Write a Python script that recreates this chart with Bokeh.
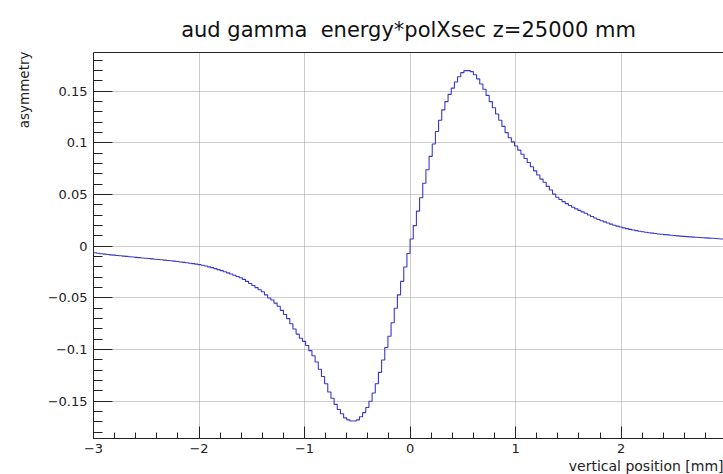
import numpy as np
from bokeh.plotting import figure
from bokeh.models import Range1d, FixedTicker, LinearAxis, Title
from bokeh.embed import file_html
from bokeh.resources import INLINE

# ---- texts ----
title_text = "aud gamma\u00a0 energy*polXsec z=25000 mm"
x_title = "vertical position [mm]"
y_title = "asymmetry"

# ---- histogram: 200 bins of 0.03 mm from -3 to 3 ----
bin_low = -3.0
bin_width = 0.03

# bins from x = -3 up to 0 (left to right)
asym_neg = [
    -0.0063, -0.0068, -0.0072, -0.0076, -0.0080, -0.0083, -0.0086, -0.0089, -0.0092, -0.0095,
    -0.0098, -0.0101, -0.0104, -0.0107, -0.0110, -0.0113, -0.0116, -0.0119, -0.0122, -0.0125,
    -0.0128, -0.0131, -0.0134, -0.0137, -0.0140, -0.0144, -0.0148, -0.0152, -0.0156, -0.0160,
    -0.0164, -0.0168, -0.0173, -0.0178, -0.0184, -0.0191, -0.0199, -0.0207, -0.0216, -0.0226,
    -0.0236, -0.0246, -0.0257, -0.0268, -0.0280, -0.0292, -0.0305, -0.0320, -0.0340, -0.0360,
    -0.0380, -0.0400, -0.0420, -0.0440, -0.0470, -0.0500, -0.0520, -0.0550, -0.0580, -0.0620,
    -0.0660, -0.0700, -0.0750, -0.0800, -0.0850, -0.0890, -0.0920, -0.0960, -0.1010, -0.1060,
    -0.1120, -0.1190, -0.1260, -0.1330, -0.1410, -0.1470, -0.1530, -0.1580, -0.1620, -0.1660,
    -0.1680, -0.1690, -0.1690, -0.1680, -0.1650, -0.1610, -0.1560, -0.1500, -0.1420, -0.1330,
    -0.1220, -0.1100, -0.0980, -0.0870, -0.0740, -0.0600, -0.0470, -0.0340, -0.0200, -0.0070,
]

# bins from x = 0 up to 3 (left to right)
asym_pos = [
    0.0070, 0.0200, 0.0340, 0.0470, 0.0610, 0.0740, 0.0870, 0.0990, 0.1110, 0.1220,
    0.1320, 0.1400, 0.1470, 0.1530, 0.1590, 0.1640, 0.1680, 0.1700, 0.1700, 0.1690,
    0.1660, 0.1620, 0.1570, 0.1520, 0.1460, 0.1400, 0.1340, 0.1280, 0.1220, 0.1160,
    0.1100, 0.1050, 0.1010, 0.0970, 0.0930, 0.0890, 0.0850, 0.0810, 0.0770, 0.0730,
    0.0690, 0.0650, 0.0620, 0.0580, 0.0545, 0.0505, 0.0475, 0.0452, 0.0432, 0.0413,
    0.0395, 0.0378, 0.0362, 0.0347, 0.0333, 0.0319, 0.0303, 0.0288, 0.0273, 0.0259,
    0.0247, 0.0236, 0.0225, 0.0214, 0.0204, 0.0195, 0.0186, 0.0178, 0.0171, 0.0164,
    0.0157, 0.0151, 0.0145, 0.0140, 0.0135, 0.0131, 0.0127, 0.0123, 0.0119, 0.0116,
    0.0113, 0.0110, 0.0107, 0.0104, 0.0101, 0.0098, 0.0096, 0.0093, 0.0091, 0.0089,
    0.0087, 0.0085, 0.0083, 0.0081, 0.0079, 0.0077, 0.0075, 0.0073, 0.0071, 0.0069,
]

# ---- axis ticks ----
x_ticks = [-3, -2, -1, 0, 1, 2, 3]
x_tick_labels = ["\u22123", "\u22122", "\u22121", "0", "1", "2", "3"]
y_ticks = [-0.15, -0.1, -0.05, 0.0, 0.05, 0.1, 0.15]
y_tick_labels = ["\u22120.15", "\u22120.1", "\u22120.05", "0", "0.05", "0.1", "0.15"]

FONT = "DejaVu Sans"
INK = "#222222"
LINE_BLUE = "#3838d0"

asym = np.array(asym_neg + asym_pos)
edges = bin_low + bin_width * np.arange(len(asym) + 1)
step_y = np.append(asym, asym[-1])

p = figure(
    width=723, height=474,
    output_backend="svg", toolbar_location=None,
    x_range=Range1d(-3.0, 2.97), y_range=Range1d(-0.186, 0.1875),
    min_border_left=92, min_border_right=0, min_border_top=52, min_border_bottom=36,
)
p.background_fill_color = "white"
p.border_fill_color = "white"
p.outline_line_color = None

# histogram outline
p.step(edges, step_y, mode="after", line_color=LINE_BLUE, line_width=1.1)

# minor tick positions
x_minor = [round(v, 2) for v in np.arange(-3.0, 3.0001, 0.2)]
y_minor = [round(v, 3) for v in np.arange(-0.18, 0.1801, 0.01)]

xt = FixedTicker(ticks=x_ticks, minor_ticks=x_minor)
yt = FixedTicker(ticks=y_ticks, minor_ticks=y_minor)

xa = p.xaxis[0]
ya = p.yaxis[0]
xa.ticker = xt
ya.ticker = yt
xa.major_label_overrides = dict(zip(x_ticks, x_tick_labels))
ya.major_label_overrides = dict(zip(y_ticks, y_tick_labels))

for ax in (xa, ya):
    ax.axis_line_color = INK
    ax.axis_line_width = 1
    ax.major_tick_line_color = INK
    ax.minor_tick_line_color = INK
    ax.major_tick_out = 0
    ax.minor_tick_out = 0
    ax.major_label_text_font = FONT
    ax.major_label_text_font_size = "13px"
    ax.major_label_text_color = INK

xa.major_tick_in = 12
xa.minor_tick_in = 6
xa.major_label_standoff = 5
ya.major_tick_in = 19
ya.minor_tick_in = 9
ya.major_label_standoff = 6

p.xgrid.ticker = xt
p.ygrid.ticker = yt
for g in (p.xgrid, p.ygrid):
    g.grid_line_color = "#9a9a9a"
    g.grid_line_dash = "1 1"
    g.grid_line_width = 1

# top border of the frame (no ticks; the tick_out value only reserves a gap below the title)
top = LinearAxis(ticker=FixedTicker(ticks=[]), axis_line_color=INK,
                 major_tick_in=0, major_tick_out=9, minor_tick_in=0, minor_tick_out=0,
                 major_label_text_font_size="0px", major_label_standoff=0)
p.add_layout(top, "above")

# title and axis titles
p.add_layout(Title(text=title_text, align="center", vertical_align="top",
                   text_font=FONT, text_font_style="normal", text_font_size="21px",
                   text_color="#111111", standoff=17), "above")
p.add_layout(Title(text=x_title, align="right", text_font=FONT,
                   text_font_style="normal", text_font_size="14px",
                   text_color=INK, standoff=0, offset=0), "below")
p.add_layout(Title(text=y_title, align="right", text_font=FONT,
                   text_font_style="normal", text_font_size="13.5px",
                   text_color=INK, standoff=26, offset=-1), "left")

open("out.html", "w").write(file_html(p, INLINE))
